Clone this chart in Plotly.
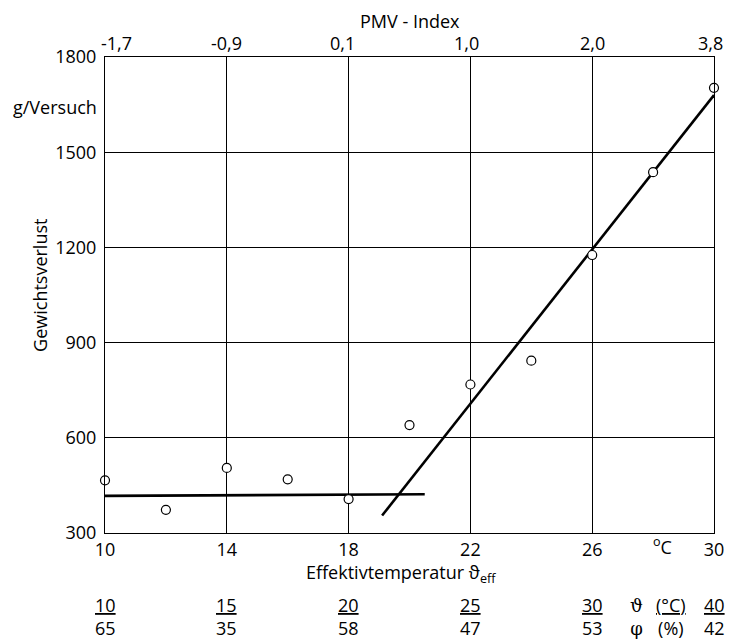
import plotly.graph_objects as go

# --- data ---
temp_eff = [10, 12, 14, 16, 18, 20, 22, 24, 26, 28, 30]
weight_loss = [466, 373, 505, 469, 407, 640, 768, 843, 1176, 1437, 1703]

flat_fit_x = [10, 20.5]
flat_fit_y = [417, 422]
steep_fit_x = [19.1, 30]
steep_fit_y = [355, 1680]

x_ticks = [10, 14, 18, 22, 26, 30]
y_ticks = [300, 600, 900, 1200, 1500, 1800]
pmv_labels = ["-1,7", "-0,9", "0,1", "1,0", "2,0", "3,8"]
air_temp = ["10", "15", "20", "25", "30", "40"]
rel_hum = ["65", "35", "58", "47", "53", "42"]

FONT = "Open Sans"
FS = 18

fig = go.Figure()

fig.add_trace(go.Scatter(x=flat_fit_x, y=flat_fit_y, mode="lines",
                         line=dict(color="black", width=2.6), showlegend=False))
fig.add_trace(go.Scatter(x=steep_fit_x, y=steep_fit_y, mode="lines",
                         line=dict(color="black", width=2.6), showlegend=False))
fig.add_trace(go.Scatter(x=temp_eff, y=weight_loss, mode="markers",
                         marker=dict(symbol="circle", size=9, color="white",
                                     line=dict(color="black", width=1.2)),
                         showlegend=False, cliponaxis=False))

axis_common = dict(showgrid=True, gridcolor="black", gridwidth=1,
                   showline=True, linecolor="black", linewidth=1.2,
                   zeroline=False, ticks="",
                   tickfont=dict(family=FONT, size=FS, color="black"))

fig.update_layout(
    width=736, height=640,
    margin=dict(l=105, r=15, t=57, b=107),
    paper_bgcolor="white", plot_bgcolor="white",
    font=dict(family=FONT, size=FS, color="black"),
    xaxis=dict(range=[10, 30], tickvals=x_ticks, mirror=True, **axis_common),
    yaxis=dict(range=[300, 1800], tickvals=y_ticks, mirror=True,
               ticklabelstandoff=4, **axis_common),
)

ann = []
# PMV index labels along the top edge
pmv_shift = [11, 0, -6, -4, 0, -4]
for xv, lab, sh in zip(x_ticks, pmv_labels, pmv_shift):
    ann.append(dict(text=lab, xref="x", yref="paper", x=xv, xshift=sh, y=1,
                    yshift=14, xanchor="center", yanchor="middle",
                    showarrow=False, font=dict(size=FS)))
ann.append(dict(text="PMV - Index", xref="paper", yref="paper", x=0.5, y=1,
                yshift=36, xanchor="center", yanchor="middle", showarrow=False,
                font=dict(size=FS)))
ann.append(dict(text="Gewichtsverlust", xref="paper", yref="paper", x=-0.106,
                y=0.52, textangle=-90, xanchor="center", yanchor="middle",
                showarrow=False, font=dict(size=FS)))
ann.append(dict(text="g/Versuch", xref="paper", yref="paper", x=0, xshift=-6,
                y=0.895, xanchor="right", yanchor="middle", showarrow=False,
                font=dict(size=FS)))
ann.append(dict(text="Effektivtemperatur ϑ<sub>eff</sub>", xref="paper", yref="paper",
                x=0.487, y=0, yshift=-40, xanchor="center", yanchor="middle",
                showarrow=False, font=dict(size=FS)))
ann.append(dict(text="<sup>o</sup>C", xref="x", yref="paper", x=28.3, y=0,
                yshift=-13, xanchor="center", yanchor="middle", showarrow=False,
                font=dict(size=FS)))
for xv, a, b in zip(x_ticks, air_temp, rel_hum):
    ann.append(dict(text=f"<u>{a}</u><br>{b}", xref="x", yref="paper", x=xv,
                    y=-0.176, xanchor="center", yanchor="middle", showarrow=False,
                    align="center", font=dict(size=FS)))
ann.append(dict(text="ϑ<br>φ", xref="x", yref="paper", x=27.45,
                y=-0.176, xanchor="center", yanchor="middle", showarrow=False,
                align="center", font=dict(size=FS, family="DejaVu Serif")))
ann.append(dict(text="<u>(°C)</u><br>(%)", xref="x", yref="paper", x=28.6,
                y=-0.176, xanchor="center", yanchor="middle", showarrow=False,
                align="center", font=dict(size=FS)))
fig.update_layout(annotations=ann)

fig.write_html("out.html")
